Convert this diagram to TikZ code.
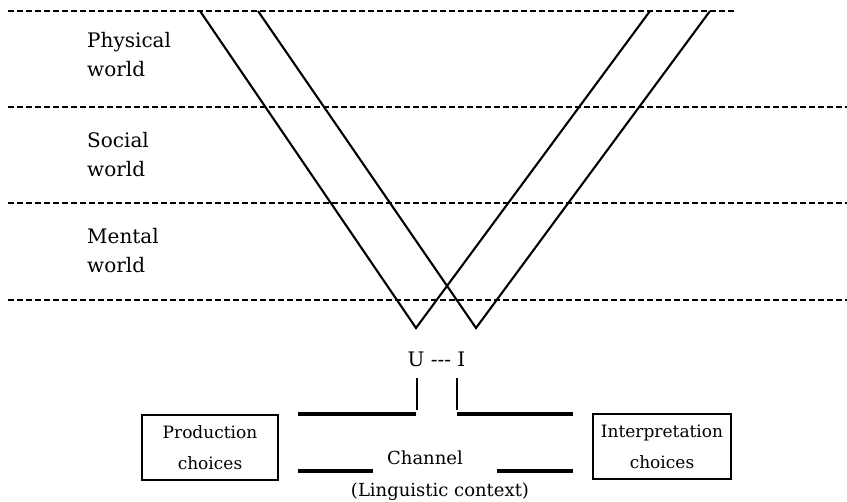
\documentclass[tikz,border=0pt]{standalone}
\usepackage{fontspec}
\setmainfont{DejaVu Serif}
\begin{document}
\begin{tikzpicture}[x=1pt,y=-1pt,
  level/.style={line width=1.6pt, dash pattern=on 6pt off 3pt},
  arm/.style={line width=2.1pt, line join=miter},
  thick bar/.style={line width=3.4pt},
  tick/.style={line width=1.8pt},
  worldlabel/.style={anchor=north west, inner sep=0pt, align=left, font=\fontsize{20}{29}\selectfont},
  choicebox/.style={draw, line width=2.2pt, inner sep=0pt, align=center, minimum height=65pt, font=\fontsize{17}{31}\selectfont},
  plain/.style={inner sep=0pt, font=\fontsize{18}{22}\selectfont}
]
\useasboundingbox (0,0) rectangle (847,502);

% dashed level lines
\draw[level] (8,11) -- (735,11);
\draw[level] (8,107) -- (847,107);
\draw[level] (8,203) -- (847,203);
\draw[level] (8,300) -- (847,300);

% world labels
\node[worldlabel] (phys) at (87,32) {Physical\\world};
\node[worldlabel] (soc) at (87,132) {Social\\world};
\node[worldlabel] (ment) at (87,228) {Mental\\world};

% the two V shapes
\coordinate (v1a) at (200,11);
\coordinate (v1b) at (416,328);
\coordinate (v1c) at (650,11);
\coordinate (v2a) at (258,11);
\coordinate (v2b) at (476,328);
\coordinate (v2c) at (710,11);
\draw[arm] (v1a) -- (v1b) -- (v1c);
\draw[arm] (v2a) -- (v2b) -- (v2c);

% U --- I
\node[plain, anchor=base, font=\fontsize{20}{22}\selectfont] (ui) at (436.5,367) {U -{}-{}- I};

% vertical ticks
\coordinate (t1a) at (417,378);
\coordinate (t1b) at (417,410);
\coordinate (t2a) at (457,378);
\coordinate (t2b) at (457,410);
\draw[tick] (t1a) -- (t1b);
\draw[tick] (t2a) -- (t2b);

% channel bars
\coordinate (b1) at (298,414);
\coordinate (b2) at (416,414);
\coordinate (b3) at (457,414);
\coordinate (b4) at (573,414);
\coordinate (b5) at (298,471);
\coordinate (b6) at (373,471);
\coordinate (b7) at (497,471);
\coordinate (b8) at (573,471);
\draw[thick bar] (b1) -- (b2);
\draw[thick bar] (b3) -- (b4);
\draw[thick bar] (b5) -- (b6);
\draw[thick bar] (b7) -- (b8);

\node[plain, anchor=base] (chan) at (425,465) {Channel};
\node[plain, anchor=base] (ling) at (440,497) {(Linguistic context)};

% boxes
\node[choicebox, minimum width=136pt] (prod) at (210,447.5) {Production\\choices};
\node[choicebox, minimum width=138pt] (interp) at (662,446.5) {Interpretation\\choices};
\end{tikzpicture}
\end{document}
